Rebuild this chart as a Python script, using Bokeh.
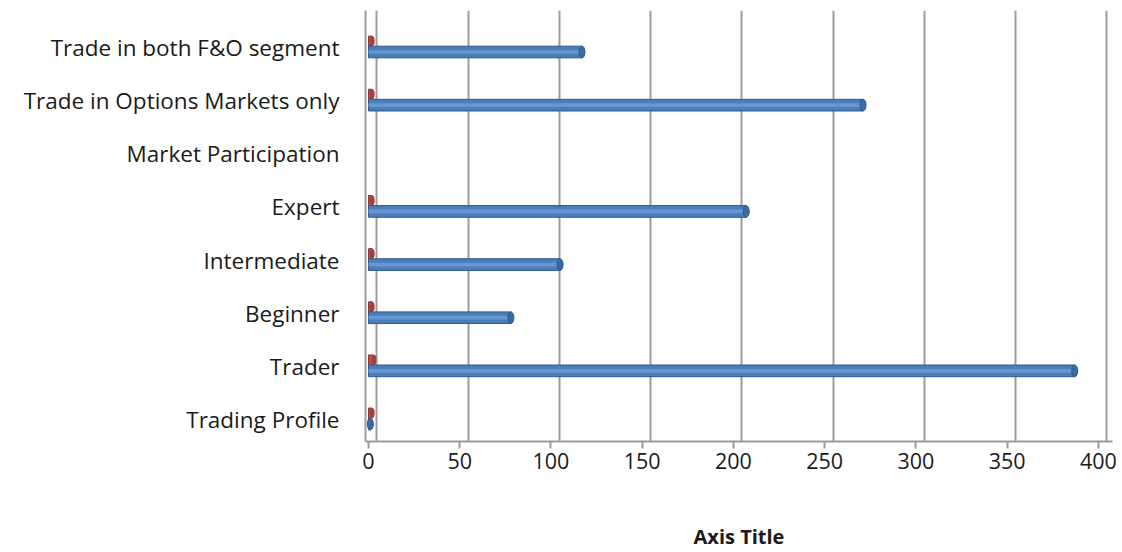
import math
from bokeh.plotting import figure
from bokeh.models import Range1d, FixedTicker, Grid, ColumnDataSource
from bokeh.embed import file_html
from bokeh.resources import INLINE

# ---- data ----
categories = ["Trading Profile", "Trader", "Beginner", "Intermediate", "Expert",
              "Market Participation", "Trade in Options Markets only", "Trade in both F&O segment"]
series_blue = [1, 387, 78, 105, 207, float("nan"), 271, 117]
series_red = [2, 3, 2, 2, 2, float("nan"), 2, 2]
x_ticks = [0, 50, 100, 150, 200, 250, 300, 350, 400]
x_title = "Axis Title"

FONT = "Open Sans"
idx = list(range(len(categories)))

p = figure(width=1122, height=552,
           x_range=Range1d(-1.64, 407.7), y_range=Range1d(-0.414, 7.696),
           output_backend="svg", toolbar_location=None,
           min_border_left=365, min_border_right=10, min_border_top=10, min_border_bottom=111)
p.outline_line_color = None
p.xgrid.visible = False
p.ygrid.visible = False

# back-wall grid (3D depth offset)
p.extra_x_ranges["back"] = Range1d(-1.64 - 4.6, 407.7 - 4.6)
back_grid = Grid(dimension=0, ticker=FixedTicker(ticks=x_ticks), x_range_name="back",
                 grid_line_color="#9c9c9c", grid_line_width=2)
p.add_layout(back_grid)

# x axis
xa = p.xaxis[0]
xa.ticker = FixedTicker(ticks=x_ticks)
xa.axis_line_color = "#9c9c9c"
xa.axis_line_width = 2
xa.major_tick_line_color = "#9c9c9c"
xa.major_tick_line_width = 2
xa.major_tick_out = 7
xa.major_tick_in = 0
xa.minor_tick_line_color = None
xa.major_label_standoff = 4
xa.major_label_text_font = FONT
xa.major_label_text_font_size = "21.5px"
xa.major_label_text_color = "#1a1a1a"
xa.axis_label = x_title
xa.axis_label_text_font = FONT
xa.axis_label_text_font_size = "20px"
xa.axis_label_text_font_style = "bold"
xa.axis_label_text_color = "#1a1a1a"
xa.axis_label_standoff = 51

# y axis
ya = p.yaxis[0]
ya.ticker = FixedTicker(ticks=idx)
ya.major_label_overrides = {i: c for i, c in zip(idx, categories)}
ya.axis_line_color = "#9c9c9c"
ya.axis_line_width = 2
ya.major_tick_line_color = None
ya.minor_tick_line_color = None
ya.major_label_standoff = 20
ya.major_label_text_font = FONT
ya.major_label_text_font_size = "22.5px"
ya.major_label_text_color = "#1a1a1a"

src = ColumnDataSource(dict(y=idx, blue=series_blue, red=series_red,
                            yb=[i - 0.085 for i in idx], yr=[i + 0.12 for i in idx]))

# red series (behind)
p.hbar(y="yr", left=0, right="red", height=0.19, source=src,
       fill_color="#C0504D", line_color="#8C3836", line_width=1)
p.ellipse(x="red", y="yr", width=5, height=0.19, width_units="screen", source=src,
          fill_color="#A5403D", line_color=None)

# blue series (cylinder look)
p.hbar(y="yb", left=0, right="blue", height=0.22, source=src,
       fill_color="#4A7EBB", line_color="#2F5A8C", line_width=1)
p.hbar(y="yb", left=0, right="blue", height=0.07, source=src,
       fill_color="#6E9DD6", line_color=None, fill_alpha=0.8)
p.ellipse(x="blue", y="yb", width=6, height=0.22, width_units="screen", source=src,
          fill_color="#3C6AA3", line_color="#2F5A8C", line_width=1)

open("out.html", "w").write(file_html(p, INLINE))
